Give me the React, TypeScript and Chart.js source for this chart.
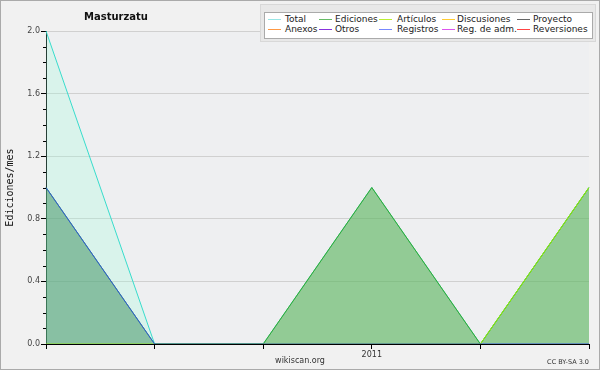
import React, { useEffect, useRef } from "react";
import { Chart, registerables } from "chart.js";

Chart.register(...registerables);

const xLabels = ["", "", "", "2011", "", ""];
const totalValues = [2, 0, 0, 1, 0, 1];
const edicionesValues = [1, 0, 0, 1, 0, 1];
const articulosValues = [0, 0, 0, 0, 0, 1];
const registrosValues = [1, 0, 0, 0, 0, 0];
const yMajorStep = 0.4;
const yMinorStep = 0.1;

const legendItems = [
  { label: "Total", color: "#99e6e6" },
  { label: "Ediciones", color: "#66bb66" },
  { label: "Artículos", color: "#bbee33" },
  { label: "Discusiones", color: "#ffcc33" },
  { label: "Proyecto", color: "#666666" },
  { label: "Anexos", color: "#ff9944" },
  { label: "Otros", color: "#8833dd" },
  { label: "Registros", color: "#7788ff" },
  { label: "Reg. de adm.", color: "#dd55ee" },
  { label: "Reversiones", color: "#ff4444" },
];

const legendLineX = [268, 319, 379, 442, 517];
const legendTextX = [285, 335, 397, 457, 533];
const legendRowY = [19.5, 29.5];

const FONT = "'DejaVu Sans', sans-serif";

export default function App() {
  const ref = useRef<HTMLCanvasElement | null>(null);

  useEffect(() => {
    document.body.style.margin = "0";
    const ctx = ref.current!.getContext("2d")!;
    const bgPlugin = {
      id: "plotBg",
      beforeDraw(chart: any) {
        const { ctx, chartArea } = chart;
        ctx.save();
        ctx.fillStyle = "#eeeff1";
        ctx.fillRect(chartArea.left, chartArea.top, chartArea.right - chartArea.left, chartArea.bottom - chartArea.top);
        ctx.restore();
      },
    };
    const minorTicks = {
      id: "minorTicks",
      afterDraw(chart: any) {
        const y = chart.scales.y;
        const c = chart.ctx;
        c.save();
        c.strokeStyle = "#000";
        c.lineWidth = 1;
        for (let i = 0; i <= Math.round((y.max - y.min) / yMinorStep); i++) {
          if (i % Math.round(yMajorStep / yMinorStep) === 0) continue;
          const py = Math.round(y.getPixelForValue(y.min + i * yMinorStep)) + 0.5;
          c.beginPath();
          c.moveTo(y.right - 3, py);
          c.lineTo(y.right, py);
          c.stroke();
        }
        c.restore();
      },
    };
    const chart = new Chart(ctx, {
      type: "line",
      data: {
        labels: xLabels,
        datasets: [
          {
            label: "Registros",
            data: registrosValues,
            borderColor: "#3355dd",
            backgroundColor: "rgba(79,136,250,0.15)",
            fill: "origin",
            order: 1,
          },
          {
            label: "Artículos",
            data: articulosValues,
            borderColor: "#99ee00",
            backgroundColor: "rgba(0,0,0,0)",
            fill: false,
            order: 2,
          },
          {
            label: "Ediciones",
            data: edicionesValues,
            borderColor: "#33aa33",
            backgroundColor: "rgba(75,163,64,0.5)",
            fill: "origin",
            order: 3,
          },
          {
            label: "Total",
            data: totalValues,
            borderColor: "#38dccc",
            backgroundColor: "rgba(154,255,221,0.25)",
            fill: "origin",
            order: 4,
          },
        ],
      },
      options: {
        animation: false,
        responsive: false,
        maintainAspectRatio: false,
        elements: {
          point: { radius: 0 },
          line: { borderWidth: 1, tension: 0 },
        },
        layout: { padding: { top: 31, right: 11, left: 0, bottom: 0 } },
        plugins: {
          legend: { display: false },
          tooltip: { enabled: false },
          title: { display: false },
        },
        scales: {
          x: {
            type: "category",
            offset: false,
            afterFit: (s: any) => {
              s.height = 26;
            },
            grid: {
              drawOnChartArea: false,
              tickColor: "#000",
              tickLength: 5,
            },
            border: { color: "#000", width: 1 },
            ticks: {
              autoSkip: false,
              maxRotation: 0,
              padding: 1,
              color: "#333",
              font: { family: FONT, size: 8 },
            },
          },
          y: {
            min: 0,
            max: 2,
            afterFit: (s: any) => {
              s.width = 46;
            },
            grid: {
              color: "#d0d0d0",
              tickColor: "#000",
              tickLength: 5,
            },
            border: { color: "#000", width: 1 },
            ticks: {
              stepSize: yMajorStep,
              padding: 1,
              color: "#444",
              font: { family: FONT, size: 8 },
              callback: (v: any) => Number(v).toFixed(1),
            },
            title: {
              display: true,
              text: "Ediciones/mes",
              color: "#111",
              font: { family: "'DejaVu Sans Mono', monospace", size: 10 },
              padding: { top: 4, bottom: 0 },
            },
          },
        },
      },
      plugins: [bgPlugin, minorTicks],
    });
    return () => chart.destroy();
  }, []);

  return (
    <div
      style={{
        position: "fixed",
        left: 0,
        top: 0,
        width: 600,
        height: 370,
        background: "#f1f1f1",
        fontFamily: FONT,
        overflow: "hidden",
      }}
    >
      <canvas ref={ref} width={600} height={370} style={{ position: "absolute", left: 0, top: 0 }} />
      <div
        style={{
          position: "absolute",
          left: 116,
          top: 11,
          transform: "translateX(-50%)",
          fontSize: 10,
          fontWeight: "bold",
          lineHeight: "12px",
          color: "#111",
          whiteSpace: "nowrap",
        }}
      >
        Masturzatu
      </div>
      <div
        style={{
          position: "absolute",
          left: 260,
          top: 4,
          width: 336,
          height: 38,
          background: "#e8e8e8",
          border: "1px solid #d8d8d8",
          boxSizing: "border-box",
        }}
      />
      <div
        style={{
          position: "absolute",
          left: 264,
          top: 12,
          width: 329,
          height: 27,
          background: "#ffffff",
          border: "1px solid #aaaaaa",
          boxSizing: "border-box",
        }}
      />
      {legendItems.map((it, i) => {
        const col = i % 5;
        const row = Math.floor(i / 5);
        const cy = legendRowY[row];
        return (
          <React.Fragment key={it.label}>
            <div
              style={{
                position: "absolute",
                left: legendLineX[col],
                top: Math.round(cy) - 1,
                width: 13,
                height: 1,
                background: it.color,
              }}
            />
            <div
              style={{
                position: "absolute",
                left: legendTextX[col],
                top: cy - 6,
                fontSize: 9,
                lineHeight: "11px",
                color: "#222",
                whiteSpace: "nowrap",
              }}
            >
              {it.label}
            </div>
          </React.Fragment>
        );
      })}
      <div
        style={{
          position: "absolute",
          left: 300,
          top: 356,
          transform: "translateX(-50%)",
          fontSize: 8,
          lineHeight: "10px",
          color: "#333",
          whiteSpace: "nowrap",
        }}
      >
        wikiscan.org
      </div>
      <div
        style={{
          position: "absolute",
          right: 11,
          top: 358,
          fontSize: 6.5,
          lineHeight: "8px",
          color: "#333",
          whiteSpace: "nowrap",
        }}
      >
        CC BY-SA 3.0
      </div>
      <div
        style={{
          position: "absolute",
          left: 0,
          top: 0,
          width: 600,
          height: 370,
          border: "1px solid #aaaaaa",
          boxSizing: "border-box",
          pointerEvents: "none",
        }}
      />
    </div>
  );
}
